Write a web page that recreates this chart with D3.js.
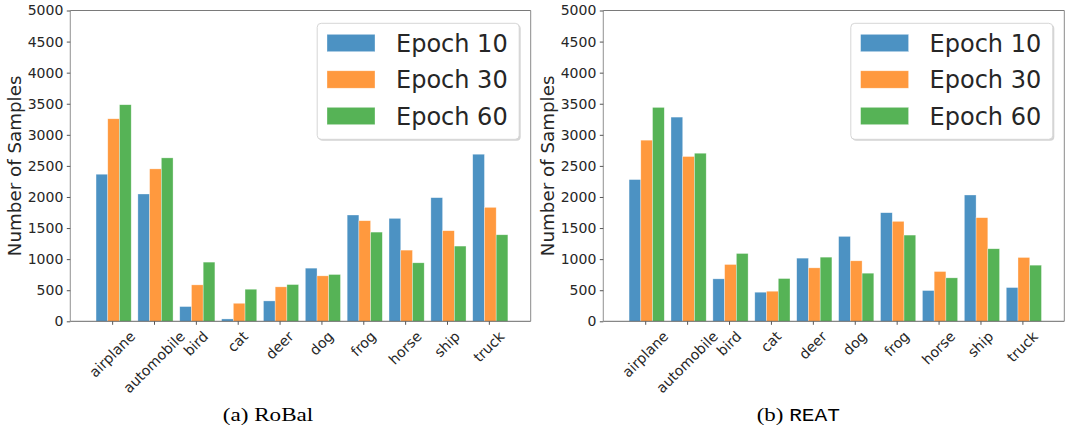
<!DOCTYPE html>
<html>
<head>
<meta charset="utf-8">
<script src="https://cdn.jsdelivr.net/npm/d3@7"></script>
<style>
  html, body { margin: 0; padding: 0; background: #fff; }
  svg { display: block; }
</style>
</head>
<body>
<svg id="chart" width="1065" height="427"></svg>
<script>
// ---- data ----
const categories = ["airplane", "automobile", "bird", "cat", "deer", "dog", "frog", "horse", "ship", "truck"];
const seriesNames = ["Epoch 10", "Epoch 30", "Epoch 60"];
const yTicks = [0, 500, 1000, 1500, 2000, 2500, 3000, 3500, 4000, 4500, 5000];

const robalEpoch10 = [2366, 2048, 237, 38, 328, 855, 1710, 1656, 1989, 2688];
const robalEpoch30 = [3258, 2452, 586, 290, 554, 731, 1618, 1145, 1457, 1833];
const robalEpoch60 = [3484, 2629, 952, 516, 591, 753, 1435, 941, 1210, 1392];

const reatEpoch10 = [2280, 3285, 683, 468, 1016, 1366, 1747, 495, 2032, 543];
const reatEpoch30 = [2914, 2651, 914, 484, 860, 973, 1608, 801, 1667, 1027];
const reatEpoch60 = [3441, 2704, 1091, 688, 1032, 774, 1387, 699, 1167, 903];

const colors = ["#4c92c3", "#ff993e", "#56b356"];

const svg = d3.select("#chart");
const FONT = "'DejaVu Sans', sans-serif";
const TXT = "#262626";

function drawPanel(left, right, series, captionParts, captionX, captionW) {
  const top = 10.5, bottom = 321.3;
  const g = svg.append("g");
  const x = d3.scaleLinear().domain([-1, 10]).range([left, right]);
  const y = d3.scaleLinear().domain([0, 5000]).range([bottom, top]);
  const bw = 0.28, shift = 0.035;

  // bars
  series.forEach((vals, si) => {
    g.append("g").selectAll("rect").data(vals).join("rect")
      .attr("x", (d, i) => x(i + shift + (si - 1) * bw - bw / 2))
      .attr("width", x(bw) - x(0))
      .attr("y", d => y(d))
      .attr("height", d => y(0) - y(d))
      .attr("fill", colors[si])
      .attr("stroke", "#ffffff")
      .attr("stroke-opacity", 0.55)
      .attr("stroke-width", 0.6);
  });

  // spines
  const sp = g.append("g").attr("fill", "none");
  sp.append("line").attr("x1", left).attr("x2", left).attr("y1", top).attr("y2", bottom).attr("stroke", "#9a9a9a").attr("stroke-width", 1.1);
  sp.append("line").attr("x1", right).attr("x2", right).attr("y1", top).attr("y2", bottom).attr("stroke", "#8a8a8a").attr("stroke-width", 1);
  sp.append("line").attr("x1", left).attr("x2", right).attr("y1", top).attr("y2", top).attr("stroke", "#7a7a7a").attr("stroke-width", 1);
  sp.append("line").attr("x1", left).attr("x2", right).attr("y1", bottom).attr("y2", bottom).attr("stroke", "#6a6a6a").attr("stroke-width", 1);

  // y axis
  const yAxis = d3.axisLeft(y).tickValues(yTicks).tickSize(3.5).tickPadding(3.5).tickFormat(d3.format("d"));
  const ya = g.append("g").attr("transform", `translate(${left},0)`).call(yAxis);
  ya.select(".domain").remove();
  ya.selectAll(".tick line").attr("stroke", "#555");
  ya.selectAll(".tick text").attr("font-family", FONT).attr("font-size", 14).attr("fill", TXT);

  // x axis ticks
  const xAxis = d3.axisBottom(x).tickValues(d3.range(categories.length)).tickSize(3.5).tickFormat("");
  const xa = g.append("g").attr("transform", `translate(0,${bottom})`).call(xAxis);
  xa.select(".domain").remove();
  xa.selectAll(".tick line").attr("stroke", "#555");

  // rotated x labels (centered bbox, like matplotlib rotation=45)
  const labTop = bottom + 7.5;
  const fs = 14.2;
  categories.forEach((c, i) => {
    const t = g.append("text")
      .attr("font-family", FONT).attr("font-size", fs).attr("fill", TXT)
      .attr("text-anchor", "middle").attr("dominant-baseline", "central")
      .text(c);
    const w = t.node().getComputedTextLength();
    const h = fs * 1.0;
    const box = (w + h) * Math.SQRT1_2;
    t.attr("transform", `translate(${x(i)},${labTop + box / 2}) rotate(-45)`);
  });

  // y label
  g.append("text")
    .attr("font-family", FONT).attr("font-size", 18.3).attr("fill", TXT)
    .attr("text-anchor", "middle").attr("dominant-baseline", "central")
    .attr("transform", `translate(${left - 56},${(top + bottom) / 2}) rotate(-90)`)
    .text("Number of Samples");

  // legend
  const lx = right - 213.5, ly = 23.3, lw = 202, lh = 116;
  g.append("rect").attr("x", lx + 1.5).attr("y", ly + 1.5).attr("width", lw).attr("height", lh)
    .attr("rx", 4).attr("fill", "#b8b8b8").attr("opacity", 0.6);
  g.append("rect").attr("x", lx).attr("y", ly).attr("width", lw).attr("height", lh)
    .attr("rx", 4).attr("fill", "#ffffff").attr("stroke", "#d6d6d6").attr("stroke-width", 1);
  seriesNames.forEach((s, si) => {
    const cy = ly + 19.7 + si * 36.5;
    g.append("rect").attr("x", lx + 9.8).attr("y", cy - 8.7).attr("width", 48).attr("height", 17.4)
      .attr("fill", colors[si]).attr("stroke", "#ffffff").attr("stroke-opacity", 0.55).attr("stroke-width", 0.6);
    g.append("text").attr("x", lx + 78.8).attr("y", cy + 8.7)
      .attr("font-family", FONT).attr("font-size", 24).attr("fill", TXT)
      .text(s);
  });

  // caption
  const cap = svg.append("text")
    .attr("x", captionX).attr("y", 421)
    .attr("fill", "#000")
    .attr("textLength", captionW).attr("lengthAdjust", "spacingAndGlyphs");
  captionParts.forEach(p => {
    cap.append("tspan")
      .attr("font-family", p.mono ? "'Liberation Mono', monospace" : "'Liberation Serif', serif")
      .attr("font-size", p.mono ? 18 : 19.5)
      .text(p.t);
  });
}

drawPanel(70.3, 530.7, [robalEpoch10, robalEpoch30, robalEpoch60],
  [{ t: "(a) RoBal" }], 222.7, 90.6);
drawPanel(603.3, 1064.3, [reatEpoch10, reatEpoch30, reatEpoch60],
  [{ t: "(b) " }, { t: "REAT", mono: true }], 756.7, 83.3);
</script>
</body>
</html>
